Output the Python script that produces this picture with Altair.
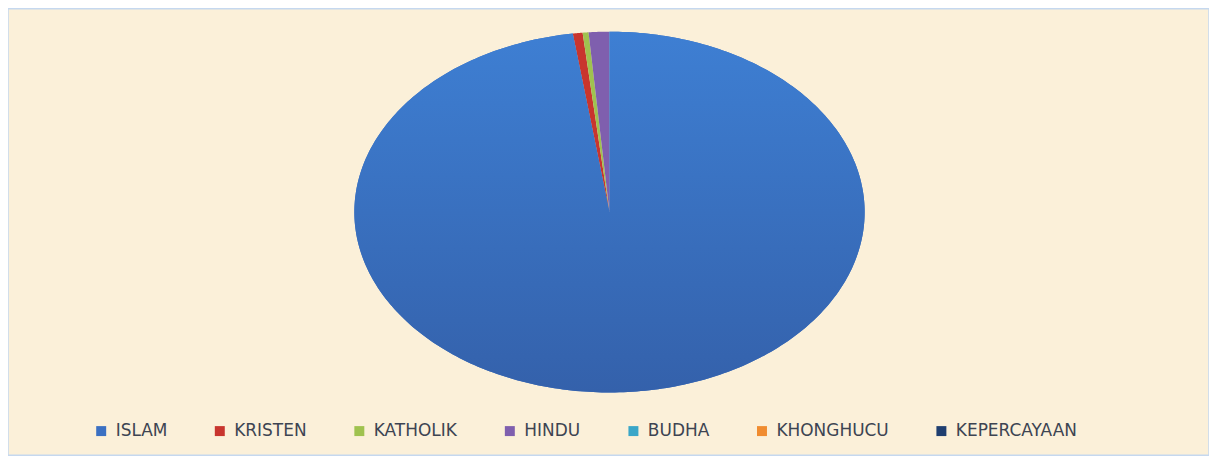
import altair as alt
import pandas as pd

religions = ["ISLAM", "KRISTEN", "KATHOLIK", "HINDU", "BUDHA", "KHONGHUCU", "KEPERCAYAAN"]
values = [97.7, 0.62, 0.37, 1.30, 0.01, 0.0, 0.0]
colors = ["#3b70c2", "#c8352e", "#9fc24f", "#7f5fae", "#3aa6c8", "#f08c30", "#1f3f70"]

df = pd.DataFrame({"religion": religions, "value": values, "order": list(range(len(religions)))})

N = 360

base = (
    alt.Chart(df)
    .transform_window(cum="sum(value)", sort=[alt.SortField("order")])
    .transform_joinaggregate(total="sum(value)")
    .transform_calculate(
        start="(datum.cum - datum.value) / datum.total",
        end="datum.cum / datum.total",
        seq=f"sequence(-1, {N + 1})",
    )
    .transform_flatten(["seq"])
    .transform_calculate(
        ang=f"2 * PI * (datum.start + (datum.end - datum.start) * max(datum.seq, 0) / {N})",
    )
    .transform_calculate(
        px="datum.seq < 0 ? 0 : sin(datum.ang)",
        py="datum.seq < 0 ? 0 : cos(datum.ang)",
    )
)

xenc = alt.X("px:Q", scale=alt.Scale(domain=[-2.3574, 2.3496], nice=False, zero=False), axis=None)
yenc = alt.Y("py:Q", scale=alt.Scale(domain=[-1.3481, 1.1271], nice=False, zero=False), axis=None)

slices = base.mark_line(filled=True, interpolate="linear").encode(
    x=xenc,
    y=yenc,
    order=alt.Order("seq:Q"),
    detail="religion:N",
    color=alt.Color(
        "religion:N",
        scale=alt.Scale(domain=religions, range=colors),
        legend=alt.Legend(
            title=None,
            orient="none",
            legendX=85,
            legendY=415,
            direction="horizontal",
            symbolType="square",
            symbolSize=100,
            symbolStrokeWidth=0,
            symbolOpacity=1,
            labelFont="DejaVu Sans",
            labelFontSize=17,
            labelColor="#3d4452",
            labelOffset=6,
            columnPadding=44,
            padding=0,
            labelLimit=300,
        ),
    ),
)

islam = base.transform_filter("datum.religion == 'ISLAM'").mark_line(
    filled=True,
    fill=alt.Gradient(
        gradient="linear",
        x1=0, y1=0, x2=0, y2=1,
        stops=[
            alt.GradientStop(offset=0, color="#3e7fd3"),
            alt.GradientStop(offset=1, color="#3461ab"),
        ],
    ),
).encode(
    x=xenc,
    y=yenc,
    order=alt.Order("seq:Q"),
)

chart = (
    alt.layer(slices, islam)
    .properties(width=1205, height=448, padding=0, autosize=alt.AutoSizeParams(type="none"))
    .configure(background="#fbf0d9")
    .configure_view(stroke="#c5d8ef", strokeWidth=1.5, fill="#fbf0d9")
)

chart.save("out.html", embed_options={"renderer": "svg", "actions": False})
